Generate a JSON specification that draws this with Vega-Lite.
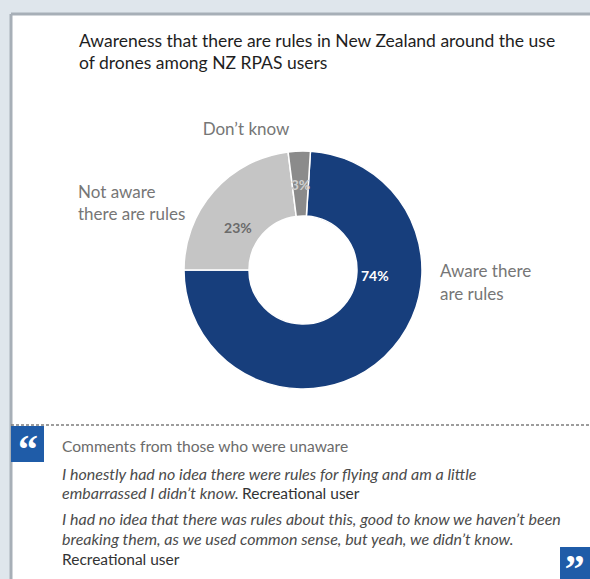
{
  "$schema": "https://vega.github.io/schema/vega-lite/v6.json",
  "width": 579,
  "height": 565,
  "autosize": "none",
  "padding": {"left": 11, "top": 14, "right": 0, "bottom": 0},
  "background": "#dfe6ec",
  "config": {
    "view": {"fill": "white", "stroke": null},
    "font": "Lato",
    "text": {"font": "Lato"}
  },
  "datasets": {
    "shares": [
      {"category": "Aware there are rules", "share": 0.74},
      {"category": "Not aware there are rules", "share": 0.23},
      {"category": "Don’t know", "share": 0.03}
    ]
  },
  "layer": [
    {
      "data": {"values": [{}]},
      "mark": {"type": "rule", "color": "#a7afb7", "strokeWidth": 3},
      "encoding": {
        "x": {"datum": 0, "type": "quantitative", "scale": {"domain": [0, 100]}, "axis": null},
        "y": {"datum": 0, "type": "quantitative", "scale": {"domain": [0, 100], "reverse": true}, "axis": null},
        "y2": {"datum": 100}
      }
    },
    {
      "data": {"values": [{}]},
      "mark": {"type": "rule", "color": "#a7afb7", "strokeWidth": 3},
      "encoding": {
        "x": {"datum": 0, "type": "quantitative", "scale": {"domain": [0, 100]}, "axis": null},
        "x2": {"datum": 100},
        "y": {"datum": 0, "type": "quantitative", "scale": {"domain": [0, 100], "reverse": true}, "axis": null}
      }
    },
    {
      "data": {"name": "shares"},
      "mark": {"type": "arc", "innerRadius": 54, "outerRadius": 119, "stroke": "white", "strokeWidth": 1.5},
      "encoding": {
        "x": {"datum": 50.43, "type": "quantitative", "scale": {"domain": [0, 100]}, "axis": null},
        "y": {"datum": 45.31, "type": "quantitative", "scale": {"domain": [0, 100], "reverse": true}, "axis": null},
        "theta": {"field": "share", "type": "quantitative", "stack": true, "scale": {"range": [0.0628, 6.346]}},
        "order": {"field": "share", "sort": "descending"},
        "color": {
          "field": "category",
          "type": "nominal",
          "scale": {"domain": ["Aware there are rules", "Not aware there are rules", "Don’t know"], "range": ["#173e7c", "#c5c5c5", "#8b8b8b"]},
          "legend": null
        }
      }
    },
    {
      "data": {"name": "shares"},
      "mark": {
        "type": "text",
        "radius": 80,
        "fontSize": 14,
        "fontWeight": "bold",
        "dx": {"expr": "datum.category == 'Aware there are rules' ? 17 : datum.category == 'Not aware there are rules' ? -5 : 0"},
        "dy": {"expr": "datum.category == 'Aware there are rules' ? -51 : datum.category == 'Not aware there are rules' ? 12 : -4"}
      },
      "encoding": {
        "x": {"datum": 50.43, "type": "quantitative", "scale": {"domain": [0, 100]}, "axis": null},
        "y": {"datum": 45.31, "type": "quantitative", "scale": {"domain": [0, 100], "reverse": true}, "axis": null},
        "theta": {"field": "share", "type": "quantitative", "stack": true, "scale": {"range": [0.0628, 6.346]}},
        "order": {"field": "share", "sort": "descending"},
        "text": {"field": "share", "type": "quantitative", "format": ".0%"},
        "color": {
          "condition": [
            {"test": "datum.category == 'Aware there are rules'", "value": "white"},
            {"test": "datum.category == 'Not aware there are rules'", "value": "#6b6b6b"}
          ],
          "value": "#cfcfcf"
        }
      }
    },
    {
      "data": {"values": [{}]},
      "mark": {"type": "text", "text": ["Awareness that there are rules in New Zealand around the use", "of drones among NZ RPAS users"], "align": "left", "baseline": "middle", "fontSize": 17.5, "lineHeight": 22, "color": "#1e1e1e"},
      "encoding": {
        "x": {"datum": 11.74, "type": "quantitative", "scale": {"domain": [0, 100]}, "axis": null},
        "y": {"datum": 4.96, "type": "quantitative", "scale": {"domain": [0, 100], "reverse": true}, "axis": null}
      }
    },
    {
      "data": {"values": [{}]},
      "mark": {"type": "text", "text": "Don’t know", "align": "center", "baseline": "middle", "fontSize": 17, "color": "#767676"},
      "encoding": {
        "x": {"datum": 40.59, "type": "quantitative", "scale": {"domain": [0, 100]}, "axis": null},
        "y": {"datum": 20.53, "type": "quantitative", "scale": {"domain": [0, 100], "reverse": true}, "axis": null}
      }
    },
    {
      "data": {"values": [{}]},
      "mark": {"type": "text", "text": ["Not aware", "there are rules"], "align": "left", "baseline": "middle", "fontSize": 17, "lineHeight": 22, "color": "#767676"},
      "encoding": {
        "x": {"datum": 11.57, "type": "quantitative", "scale": {"domain": [0, 100]}, "axis": null},
        "y": {"datum": 31.68, "type": "quantitative", "scale": {"domain": [0, 100], "reverse": true}, "axis": null}
      }
    },
    {
      "data": {"values": [{}]},
      "mark": {"type": "text", "text": ["Aware there", "are rules"], "align": "left", "baseline": "middle", "fontSize": 17, "lineHeight": 23, "color": "#767676"},
      "encoding": {
        "x": {"datum": 74.09, "type": "quantitative", "scale": {"domain": [0, 100]}, "axis": null},
        "y": {"datum": 45.66, "type": "quantitative", "scale": {"domain": [0, 100], "reverse": true}, "axis": null}
      }
    },
    {
      "data": {"values": [{}]},
      "mark": {"type": "rule", "color": "#7d7d7d", "strokeWidth": 1.5, "strokeDash": [3, 2]},
      "encoding": {
        "x": {"datum": 0, "type": "quantitative", "scale": {"domain": [0, 100]}, "axis": null},
        "x2": {"datum": 100},
        "y": {"datum": 72.74, "type": "quantitative", "scale": {"domain": [0, 100], "reverse": true}, "axis": null}
      }
    },
    {
      "data": {"values": [{}]},
      "mark": {"type": "rect", "color": "#1f5ca8"},
      "encoding": {
        "x": {"datum": 0, "type": "quantitative", "scale": {"domain": [0, 100]}, "axis": null},
        "x2": {"datum": 5.7},
        "y": {"datum": 72.92, "type": "quantitative", "scale": {"domain": [0, 100], "reverse": true}, "axis": null},
        "y2": {"datum": 79.29}
      }
    },
    {
      "data": {"values": [{}]},
      "mark": {"type": "rect", "color": "#1f5ca8"},
      "encoding": {
        "x": {"datum": 94.82, "type": "quantitative", "scale": {"domain": [0, 100]}, "axis": null},
        "x2": {"datum": 100},
        "y": {"datum": 94.34, "type": "quantitative", "scale": {"domain": [0, 100], "reverse": true}, "axis": null},
        "y2": {"datum": 100}
      }
    },
    {
      "data": {"values": [{}]},
      "mark": {"type": "text", "text": "“", "font": "Liberation Serif", "fontWeight": "bold", "fontSize": 40, "align": "center", "baseline": "middle", "color": "white"},
      "encoding": {
        "x": {"datum": 2.94, "type": "quantitative", "scale": {"domain": [0, 100]}, "axis": null},
        "y": {"datum": 77.35, "type": "quantitative", "scale": {"domain": [0, 100], "reverse": true}, "axis": null}
      }
    },
    {
      "data": {"values": [{}]},
      "mark": {"type": "text", "text": "„", "font": "Liberation Serif", "fontWeight": "bold", "fontSize": 40, "align": "center", "baseline": "alphabetic", "color": "white"},
      "encoding": {
        "x": {"datum": 97.41, "type": "quantitative", "scale": {"domain": [0, 100]}, "axis": null},
        "y": {"datum": 96.99, "type": "quantitative", "scale": {"domain": [0, 100], "reverse": true}, "axis": null}
      }
    },
    {
      "data": {"values": [{}]},
      "mark": {"type": "text", "text": "Comments from those who were unaware", "align": "left", "baseline": "middle", "fontSize": 15.6, "color": "#6b6b6b"},
      "encoding": {
        "x": {"datum": 8.81, "type": "quantitative", "scale": {"domain": [0, 100]}, "axis": null},
        "y": {"datum": 76.64, "type": "quantitative", "scale": {"domain": [0, 100], "reverse": true}, "axis": null}
      }
    },
    {
      "data": {"values": [{}]},
      "mark": {"type": "text", "text": ["I honestly had no idea there were rules for flying and am a little", "embarrassed I didn’t know."], "align": "left", "baseline": "middle", "fontSize": 16, "fontStyle": "italic", "lineHeight": 19, "color": "#4b4b4b"},
      "encoding": {
        "x": {"datum": 8.81, "type": "quantitative", "scale": {"domain": [0, 100]}, "axis": null},
        "y": {"datum": 81.59, "type": "quantitative", "scale": {"domain": [0, 100], "reverse": true}, "axis": null}
      }
    },
    {
      "data": {"values": [{}]},
      "mark": {"type": "text", "text": "Recreational user", "align": "left", "baseline": "middle", "fontSize": 15.5, "color": "#333333"},
      "encoding": {
        "x": {"datum": 39.9, "type": "quantitative", "scale": {"domain": [0, 100]}, "axis": null},
        "y": {"datum": 84.96, "type": "quantitative", "scale": {"domain": [0, 100], "reverse": true}, "axis": null}
      }
    },
    {
      "data": {"values": [{}]},
      "mark": {"type": "text", "text": ["I had no idea that there was rules about this, good to know we haven’t been", "breaking them, as we used common  sense, but yeah, we didn’t know."], "align": "left", "baseline": "middle", "fontSize": 16, "fontStyle": "italic", "lineHeight": 20, "color": "#4b4b4b"},
      "encoding": {
        "x": {"datum": 8.81, "type": "quantitative", "scale": {"domain": [0, 100]}, "axis": null},
        "y": {"datum": 89.56, "type": "quantitative", "scale": {"domain": [0, 100], "reverse": true}, "axis": null}
      }
    },
    {
      "data": {"values": [{}]},
      "mark": {"type": "text", "text": "Recreational user", "align": "left", "baseline": "middle", "fontSize": 15.5, "color": "#333333"},
      "encoding": {
        "x": {"datum": 8.81, "type": "quantitative", "scale": {"domain": [0, 100]}, "axis": null},
        "y": {"datum": 96.64, "type": "quantitative", "scale": {"domain": [0, 100], "reverse": true}, "axis": null}
      }
    }
  ]
}
